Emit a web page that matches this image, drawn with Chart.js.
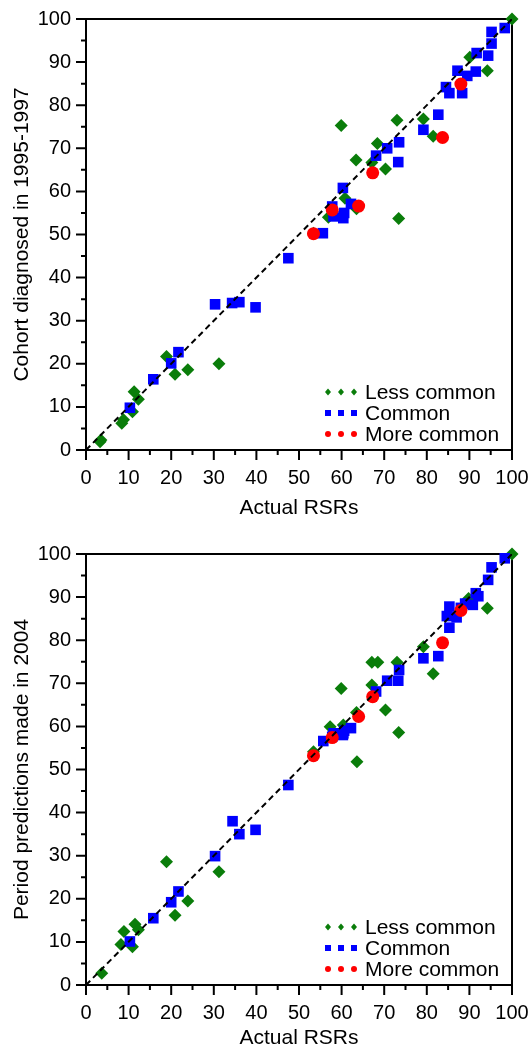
<!DOCTYPE html>
<html>
<head>
<meta charset="utf-8">
<script src="https://cdn.jsdelivr.net/npm/chart.js@4/dist/chart.umd.min.js"></script>
<style>
  html, body { margin: 0; padding: 0; background: #fff; }
  .chart-box { position: absolute; left: 0; width: 529px; }
</style>
</head>
<body>
<div class="chart-box" style="top:0;height:520px"><canvas id="cohort" width="529" height="520"></canvas></div>
<div class="chart-box" style="top:520px;height:528px"><canvas id="period" width="529" height="528"></canvas></div>
<script>
// Nombres de las series y textos
const seriesNames = ['Less common', 'Common', 'More common']
const xTitle = 'Actual RSRs'
const cohortTitle = 'Cohort diagnosed in 1995-1997'
const periodTitle = 'Period predictions made in 2004'

// Marcas de los ejes
const tickValues = [0, 10, 20, 30, 40, 50, 60, 70, 80, 90, 100]
const identityLine = [0, 100]

// Gráfico de arriba: [RSR real, cohorte]
const cohortLess = [[100, 100], [90.1, 91.1], [94.2, 88.0], [59.9, 75.3], [73.0, 76.5], [79.2, 76.8],
  [81.5, 72.8], [68.4, 71.1], [63.4, 67.3], [67.1, 66.7], [70.3, 65.2], [73.4, 53.7], [60.8, 58.4],
  [56.9, 54.0], [63.5, 56.0], [53.4, 50.3], [18.9, 21.7], [20.9, 17.6], [23.9, 18.6], [31.2, 20.0],
  [11.3, 13.5], [12.3, 11.8], [10.9, 8.9], [8.8, 7.0], [8.4, 6.2], [3.5, 2.3], [3.3, 1.9]]
const cohortCommon = [[10.3, 9.8], [15.8, 16.4], [20.0, 20.1], [21.7, 22.7], [30.3, 33.8], [34.3, 34.1],
  [36.0, 34.3], [39.8, 33.1], [47.5, 44.5], [55.6, 50.3], [57.8, 56.5], [58.1, 54.2], [60.3, 60.8],
  [60.4, 53.8], [60.6, 55.0], [62.2, 57.1], [68.1, 68.3], [70.7, 70.0], [73.3, 66.8], [73.5, 71.4],
  [79.2, 74.3], [82.7, 77.8], [84.5, 84.2], [85.3, 82.8], [87.2, 88.0], [88.3, 82.8], [89.5, 86.8],
  [91.5, 87.8], [91.7, 92.1], [94.4, 91.5], [95.2, 94.3], [95.2, 97.0], [98.3, 97.9]]
const cohortMore = [[53.4, 50.2], [57.8, 55.7], [64.0, 56.6], [67.3, 64.3], [83.7, 72.5], [88.0, 84.9]]

// Gráfico de abajo: [RSR real, predicción de periodo]
const periodLess = [[100, 100], [94.2, 87.4], [89.8, 89.7], [79.2, 78.5], [67.1, 74.9], [68.5, 74.9],
  [73.0, 74.9], [59.9, 68.8], [67.1, 69.6], [81.5, 72.2], [70.3, 63.8], [73.4, 58.6], [63.6, 51.8],
  [57.3, 59.9], [60.4, 60.3], [53.4, 54.1], [63.5, 63.2], [31.2, 26.3], [18.9, 28.6], [23.9, 19.5],
  [20.9, 16.2], [11.5, 14.1], [12.3, 12.8], [8.9, 12.4], [8.2, 9.4], [10.9, 8.9], [3.7, 2.7]]
const periodCommon = [[10.3, 10.1], [15.8, 15.5], [20.0, 19.2], [21.7, 21.7], [30.3, 29.9], [34.4, 38.0],
  [36.0, 35.0], [39.8, 36.0], [47.5, 46.4], [55.7, 56.6], [57.8, 57.6], [58.1, 58.4], [60.3, 58.0],
  [60.4, 58.4], [60.6, 59.0], [62.2, 59.6], [68.1, 68.1], [70.7, 70.6], [73.3, 70.6], [73.5, 73.1],
  [79.2, 75.8], [82.7, 76.3], [84.7, 85.6], [85.3, 82.9], [85.3, 87.8], [87.0, 85.3], [88.0, 87.5],
  [89.0, 88.5], [90.8, 88.2], [91.5, 90.9], [92.1, 90.2], [94.4, 94.0], [95.2, 96.9], [98.3, 99.0]]
const periodMore = [[53.4, 53.2], [57.8, 57.4], [64.0, 62.3], [67.3, 66.9], [83.7, 79.4], [88.0, 86.9]]

const FONT = '"Liberation Sans", Arial, Helvetica, sans-serif'
const colors = ['#0a7d0a', '#0000ff', '#ff0000']

const toPoints = (arr) => arr.map(p => ({ x: p[0], y: p[1] }))

// Dibuja la caja del gráfico y las marcas mayores/menores
const boxPlugin = {
  id: 'box',
  beforeDatasetsDraw(chart) {
    const { ctx, chartArea: a, scales } = chart
    ctx.save()
    ctx.strokeStyle = '#000'
    ctx.lineWidth = 2
    ctx.strokeRect(a.left, a.top, a.right - a.left, a.bottom - a.top)
    ctx.beginPath()
    for (let v = 0; v <= 100; v += 5) {
      const len = v % 10 === 0 ? 10 : 5
      const px = scales.x.getPixelForValue(v)
      ctx.moveTo(px, a.bottom)
      ctx.lineTo(px, a.bottom + len)
      const py = scales.y.getPixelForValue(v)
      ctx.moveTo(a.left, py)
      ctx.lineTo(a.left - len, py)
    }
    ctx.stroke()
    ctx.restore()
  }
}

// Leyenda dentro del área, abajo a la derecha
function drawMarker(ctx, style, x, y) {
  ctx.beginPath()
  if (style === 'rectRot') {
    ctx.moveTo(x, y - 3.5); ctx.lineTo(x + 3, y); ctx.lineTo(x, y + 3.5); ctx.lineTo(x - 3, y)
    ctx.closePath()
  } else if (style === 'rect') {
    ctx.rect(x - 3, y - 3, 6, 6)
  } else {
    ctx.arc(x, y, 3, 0, Math.PI * 2)
  }
  ctx.fill()
}

const legendPlugin = {
  id: 'insideLegend',
  afterDraw(chart) {
    const { ctx, chartArea: a } = chart
    const rows = [a.bottom - 58, a.bottom - 37, a.bottom - 16]
    const styles = ['rectRot', 'rect', 'circle']
    ctx.save()
    ctx.font = '21px ' + FONT
    ctx.textBaseline = 'middle'
    ctx.textAlign = 'left'
    for (let i = 0; i < 3; i++) {
      ctx.fillStyle = colors[i]
      for (let k = 0; k < 3; k++) {
        drawMarker(ctx, styles[i], a.right - 184 + k * 13, rows[i])
      }
      ctx.fillStyle = '#000'
      ctx.fillText(seriesNames[i], a.right - 147, rows[i] + 1)
    }
    ctx.restore()
  }
}

function makeChart(id, yTitle, less, common, more, padTop, xHeight, titleShift) {
  const canvas = document.getElementById(id)
  return new Chart(canvas, {
    type: 'scatter',
    data: {
      datasets: [
        {
          type: 'line',
          data: identityLine.map(v => ({ x: v, y: v })),
          borderColor: '#000', borderWidth: 2, borderDash: [6, 4],
          pointRadius: 0, fill: false
        },
        {
          label: seriesNames[2], data: toPoints(more), pointStyle: 'circle', pointRadius: 6.5,
          backgroundColor: colors[2], borderColor: colors[2], borderWidth: 0, clip: false
        },
        {
          label: seriesNames[1], data: toPoints(common), pointStyle: 'rect', pointRadius: 7.5,
          backgroundColor: colors[1], borderColor: colors[1], borderWidth: 0, clip: false
        },
        {
          label: seriesNames[0], data: toPoints(less), pointStyle: 'rectRot', pointRadius: 6.5,
          backgroundColor: colors[0], borderColor: colors[0], borderWidth: 0, clip: false
        }
      ]
    },
    options: {
      responsive: false,
      animation: false,
      devicePixelRatio: 1,
      layout: { padding: { top: padTop, right: 17, left: 0, bottom: 0 } },
      plugins: { legend: { display: false }, tooltip: { enabled: false } },
      scales: {
        x: {
          type: 'linear', min: 0, max: 100,
          grid: { display: false, drawTicks: false },
          border: { display: false },
          afterBuildTicks: (s) => { s.ticks = tickValues.map(v => ({ value: v })) },
          afterFit: (s) => { s.height = xHeight; s.paddingLeft = 0; s.paddingRight = 0 },
          ticks: { color: '#000', font: { family: FONT, size: 20 }, padding: 16, maxRotation: 0 },
          title: {
            display: true, text: xTitle, color: '#000',
            font: { family: FONT, size: 21, lineHeight: 1 }, padding: { top: 0, bottom: titleShift }
          }
        },
        y: {
          type: 'linear', min: 0, max: 100,
          grid: { display: false, drawTicks: false },
          border: { display: false },
          afterBuildTicks: (s) => { s.ticks = tickValues.map(v => ({ value: v })) },
          afterFit: (s) => { s.width = 86; s.paddingTop = 0; s.paddingBottom = 0 },
          ticks: { color: '#000', font: { family: FONT, size: 20 }, padding: 15 },
          title: {
            display: true, text: yTitle, color: '#000',
            font: { family: FONT, size: 21, lineHeight: 1.2 }, padding: { top: 10, bottom: 0 }
          }
        }
      }
    },
    plugins: [boxPlugin, legendPlugin]
  })
}

makeChart('cohort', cohortTitle, cohortLess, cohortCommon, cohortMore, 19, 70, 1)
makeChart('period', periodTitle, periodLess, periodCommon, periodMore, 34, 63, -1)
</script>
</body>
</html>
